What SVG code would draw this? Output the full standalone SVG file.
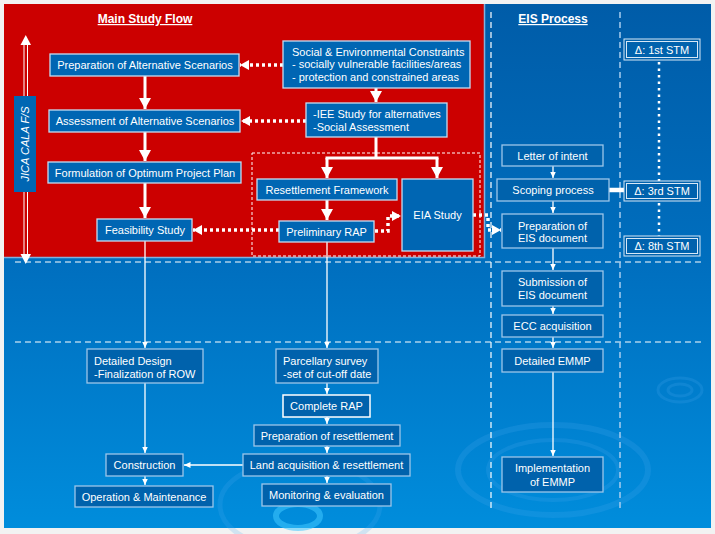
<svg xmlns="http://www.w3.org/2000/svg" width="715" height="534" viewBox="0 0 715 534">
<defs>
<linearGradient id="bg" x1="0" y1="0" x2="0" y2="1">
<stop offset="0" stop-color="#005ca8"/>
<stop offset="0.5" stop-color="#006fbf"/>
<stop offset="1" stop-color="#008ddc"/>
</linearGradient>
<marker id="ah" markerUnits="userSpaceOnUse" markerWidth="12" markerHeight="12" viewBox="0 0 12 12" refX="11" refY="6" orient="auto">
<path d="M0,0 L11,6 L0,12 z" fill="#fff"/>
</marker>
<marker id="ahs" markerUnits="userSpaceOnUse" markerWidth="7" markerHeight="7" viewBox="0 0 7 7" refX="6.5" refY="3.5" orient="auto">
<path d="M0,0.5 L6.5,3.5 L0,6.5 z" fill="#fff"/>
</marker>
<marker id="ahd" markerUnits="userSpaceOnUse" markerWidth="10" markerHeight="12" viewBox="0 0 10 12" refX="9" refY="6" orient="auto">
<path d="M0,1 L9,6 L0,11 z" fill="#fff"/>
</marker>
</defs>
<style>
text{font-family:"Liberation Sans",Arial,sans-serif;font-size:11px;fill:#fff}
.c{text-anchor:middle}
.t{font-weight:bold;font-size:12px;text-decoration:underline;text-anchor:middle}
.rb{fill:#0066b3;stroke:#c4dcf2;stroke-width:1.3}
.bb{fill:#0062ac;stroke:#9cc6ea;stroke-width:1.3}
.thick{stroke:#fff;stroke-width:3;fill:none}
.thin{stroke:#fff;stroke-width:1.3;fill:none}
.dot{stroke:#fff;stroke-width:3.5;fill:none;stroke-dasharray:3 3}
.sdot{stroke:#fff;stroke-width:2.5;fill:none;stroke-dasharray:2.5 4;stroke-linecap:butt}
.dash{stroke:#fff;stroke-width:1.2;fill:none;stroke-dasharray:6 4}
.dashl{stroke:#a8cdee;stroke-width:1.5;fill:none;stroke-dasharray:6 4}
.rip{fill:none;stroke:#4aa8ee;stroke-opacity:0.2}
</style>
<rect x="0" y="0" width="715" height="534" fill="#f2f2f2"/>
<rect x="4" y="4" width="707" height="524" fill="url(#bg)"/>
<!-- ripples -->
<g>
<ellipse class="rip" cx="553" cy="470" rx="95" ry="45" stroke-width="6"/>
<ellipse class="rip" cx="553" cy="470" rx="65" ry="30" stroke-width="4"/>
<ellipse class="rip" cx="680" cy="390" rx="22" ry="12" stroke-width="3"/>
<ellipse class="rip" cx="680" cy="390" rx="12" ry="6" stroke-width="3"/>
<ellipse cx="298" cy="516" rx="22" ry="12" fill="none" stroke="#40c8ff" stroke-opacity="0.55" stroke-width="6"/>
<ellipse class="rip" cx="300" cy="505" rx="80" ry="45" stroke-width="5"/>
</g>
<rect x="4" y="4" width="480" height="253" fill="#cc0000"/>
<path d="M484.5,4 V257.5 H4" fill="none" stroke="#7fb2e0" stroke-width="1.5"/>
<!-- dashed guide lines -->
<g>
<line class="dash" x1="15" y1="262" x2="702" y2="262"/>
<line class="dash" x1="15" y1="342" x2="702" y2="342"/>
<line class="dash" x1="491" y1="12" x2="491" y2="510"/>
<line class="dashl" x1="620" y1="12" x2="620" y2="510"/>
<rect x="252" y="153" width="228" height="103" fill="none" stroke="#fff" stroke-width="1" stroke-dasharray="3 2"/>
</g>
<text class="t" x="145" y="23">Main Study Flow</text>
<text class="t" x="553" y="23">EIS Process</text>
<!-- JICA bar -->
<g id="jica">
<line x1="24" y1="44" x2="24" y2="256" stroke="#fff" stroke-width="1"/>
<line x1="27.5" y1="44" x2="27.5" y2="256" stroke="#fff" stroke-width="1"/>
<path d="M20.5,45 L25.75,35 L31,45 z" fill="#fff"/>
<path d="M20.5,254 L25.75,264 L31,254 z" fill="#fff"/>
<rect x="14" y="96" width="22" height="96" fill="#0066b3"/>
<text class="c" transform="translate(29,144) rotate(-90)" font-style="italic">JICA CALA F/S</text>
</g>
<!-- connectors -->
<g id="connectors">
<path class="thick" d="M145,76 V109" marker-end="url(#ah)"/>
<path class="thick" d="M145,132 V161" marker-end="url(#ah)"/>
<path class="thick" d="M145,183 V218" marker-end="url(#ah)"/>
<path class="thick" d="M376,88 V102" marker-end="url(#ah)"/>
<path class="thick" d="M376,137 V158 M325.5,158 H438.5"/>
<path class="thick" d="M327,158 V178" marker-end="url(#ah)"/>
<path class="thick" d="M437,158 V178" marker-end="url(#ah)"/>
<path class="thick" d="M327,200 V220" marker-end="url(#ah)"/>
<path class="dot" d="M283,65 H240" marker-end="url(#ahd)"/>
<path class="dot" d="M306,121 H241" marker-end="url(#ahd)"/>
<path class="dot" d="M279,230 H193" marker-end="url(#ahd)"/>
<path class="dot" d="M375,231 H388 V216 H401" marker-end="url(#ahd)"/>
<path class="dot" d="M473,215 H488 V230 H501" marker-end="url(#ahd)"/>
<path class="sdot" d="M659,62 V181 M659,203 V236"/>
<path d="M609,190 H624" stroke="#fff" stroke-width="4.5"/>
<path class="thin" d="M145,241 V348" marker-end="url(#ahs)"/>
<path class="thin" d="M327,242 V348" marker-end="url(#ahs)"/>
<path class="thin" d="M145,383 V453" marker-end="url(#ahs)"/>
<path class="thin" d="M327,383 V394" marker-end="url(#ahs)"/>
<path class="thin" d="M327,417 V424" marker-end="url(#ahs)"/>
<path class="thin" d="M327,446 V453" marker-end="url(#ahs)"/>
<path class="thin" d="M327,476 V483" marker-end="url(#ahs)"/>
<path class="thin" d="M243,465 H184" marker-end="url(#ahs)"/>
<path class="thin" d="M145,476 V485" marker-end="url(#ahs)"/>
<path class="thin" d="M553,166 V178" marker-end="url(#ahs)"/>
<path class="thin" d="M553,201 V213" marker-end="url(#ahs)"/>
<path class="thin" d="M553,248 V270" marker-end="url(#ahs)"/>
<path class="thin" d="M553,306 V314" marker-end="url(#ahs)"/>
<path class="thin" d="M553,337 V348" marker-end="url(#ahs)"/>
<path class="thin" d="M553,372 V456" marker-end="url(#ahs)"/>
</g>
<!-- main flow nodes -->
<g id="prep-alt"><rect class="rb" x="50" y="54" width="189" height="22"/><text class="c" x="145" y="69">Preparation of Alternative Scenarios</text></g>
<g id="assess-alt"><rect class="rb" x="49" y="110" width="191" height="22"/><text class="c" x="145" y="125">Assessment of Alternative Scenarios</text></g>
<g id="formulation"><rect class="rb" x="48" y="162" width="193" height="21"/><text class="c" x="145" y="176.5">Formulation of Optimum Project Plan</text></g>
<g id="feasibility"><rect class="rb" x="97" y="219" width="95" height="22"/><text class="c" x="145" y="234">Feasibility Study</text></g>
<g id="constraints"><rect class="rb" x="283" y="41" width="187" height="47"/><text x="292" y="56">Social &amp; Environmental Constraints</text><text x="292" y="68">- socially vulnerable facilities/areas</text><text x="292" y="81">- protection and constrained areas</text></g>
<g id="iee"><rect class="rb" x="306" y="103" width="141" height="34"/><text x="313" y="118">-IEE Study for alternatives</text><text x="313" y="131">-Social Assessment</text></g>
<g id="resettlement-fw"><rect class="rb" x="257" y="179" width="140" height="21"/><text class="c" x="327" y="193.5">Resettlement Framework</text></g>
<g id="prelim-rap"><rect class="rb" x="279" y="221" width="95" height="21"/><text class="c" x="326.5" y="235.5">Preliminary RAP</text></g>
<g id="eia"><rect class="rb" x="402" y="179" width="71" height="72"/><text class="c" x="437.5" y="219">EIA Study</text></g>
<!-- EIS nodes -->
<g id="loi"><rect class="bb" x="502" y="145" width="101" height="21"/><text class="c" x="552.5" y="159.5">Letter of intent</text></g>
<g id="scoping"><rect class="bb" x="497" y="179" width="112" height="22"/><text class="c" x="553" y="194">Scoping process</text></g>
<g id="prep-eis"><rect class="bb" x="502" y="214" width="101" height="34"/><text class="c" x="552.5" y="229.5">Preparation of</text><text class="c" x="552.5" y="242">EIS document</text></g>
<g id="sub-eis"><rect class="bb" x="502" y="271" width="101" height="35"/><text class="c" x="552.5" y="286">Submission of</text><text class="c" x="552.5" y="299">EIS document</text></g>
<g id="ecc"><rect class="bb" x="502" y="315" width="101" height="22"/><text class="c" x="552.5" y="330">ECC acquisition</text></g>
<g id="emmp"><rect class="bb" x="502" y="349" width="101" height="23"/><text class="c" x="552.5" y="364.5">Detailed EMMP</text></g>
<g id="impl-emmp"><rect class="bb" x="502" y="457" width="101" height="35"/><text class="c" x="552.5" y="472">Implementation</text><text class="c" x="552.5" y="485.5">of EMMP</text></g>
<!-- STM -->
<g id="stm1"><rect x="624" y="39" width="76" height="21" fill="#0062ad" stroke="#d8e8f6" stroke-width="1"/><rect x="626.5" y="41.5" width="71" height="16" fill="none" stroke="#d8e8f6" stroke-width="1"/><text class="c" x="662" y="53.5">Δ: 1st STM</text></g>
<g id="stm3"><rect x="624" y="181" width="76" height="20" fill="#0062ad" stroke="#d8e8f6" stroke-width="1"/><rect x="626.5" y="183.5" width="71" height="15" fill="none" stroke="#d8e8f6" stroke-width="1"/><text class="c" x="662" y="195">Δ: 3rd STM</text></g>
<g id="stm8"><rect x="624" y="236" width="76" height="20" fill="#0062ad" stroke="#d8e8f6" stroke-width="1"/><rect x="626.5" y="238.5" width="71" height="15" fill="none" stroke="#d8e8f6" stroke-width="1"/><text class="c" x="662" y="250">Δ: 8th STM</text></g>
<!-- implementation nodes -->
<g id="detailed-design"><rect class="bb" x="87" y="349" width="116" height="34"/><text x="94" y="365">Detailed Design</text><text x="94" y="377.5">-Finalization of ROW</text></g>
<g id="parcellary"><rect class="bb" x="276" y="349" width="102" height="34"/><text x="283" y="365">Parcellary survey</text><text x="283" y="377.5">-set of cut-off date</text></g>
<g id="complete-rap"><rect x="283" y="395" width="87" height="22" fill="#0062ac" stroke="#fff" stroke-width="1.5"/><text class="c" x="326.5" y="410">Complete RAP</text></g>
<g id="prep-resettle"><rect class="bb" x="254" y="425" width="146" height="21"/><text class="c" x="327" y="439.5">Preparation of resettlement</text></g>
<g id="land-acq"><rect class="bb" x="243" y="454" width="167" height="22"/><text class="c" x="326.5" y="469">Land acquisition &amp; resettlement</text></g>
<g id="monitoring"><rect class="bb" x="262" y="484" width="129" height="22"/><text class="c" x="326.5" y="499">Monitoring &amp; evaluation</text></g>
<g id="construction"><rect class="bb" x="106" y="454" width="77" height="22"/><text class="c" x="144.5" y="469">Construction</text></g>
<g id="om"><rect class="bb" x="75" y="486" width="138" height="21"/><text class="c" x="144" y="500.5">Operation &amp; Maintenance</text></g>
</svg>
